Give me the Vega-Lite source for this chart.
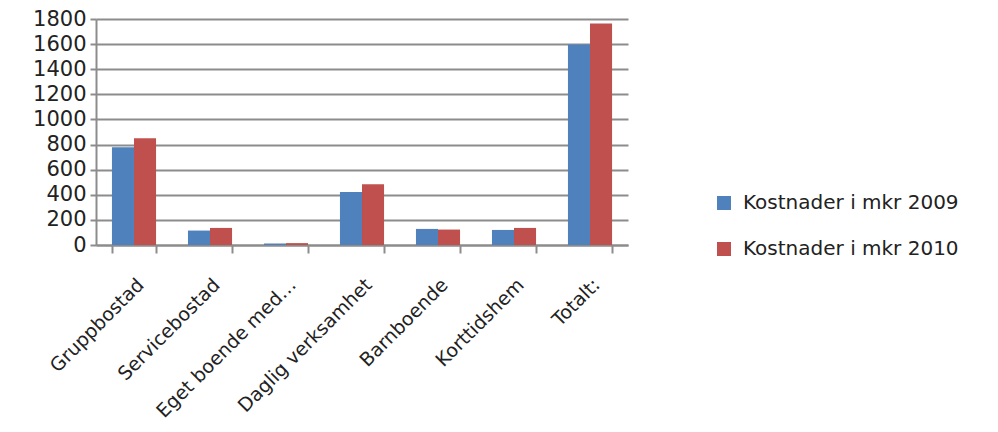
{
  "$schema": "https://vega.github.io/schema/vega-lite/v6.json",
  "width": 532,
  "height": 226,
  "padding": {"left": 32, "top": 8, "right": 5, "bottom": 5},
  "background": "white",
  "config": {"font": "DejaVu Sans", "view": {"stroke": null}},
  "data": {"values": [
    {"cat": "Gruppbostad", "series": "Kostnader i mkr 2009", "value": 778},
    {"cat": "Gruppbostad", "series": "Kostnader i mkr 2010", "value": 851},
    {"cat": "Servicebostad", "series": "Kostnader i mkr 2009", "value": 115},
    {"cat": "Servicebostad", "series": "Kostnader i mkr 2010", "value": 136},
    {"cat": "Eget boende med…", "series": "Kostnader i mkr 2009", "value": 12},
    {"cat": "Eget boende med…", "series": "Kostnader i mkr 2010", "value": 15},
    {"cat": "Daglig verksamhet", "series": "Kostnader i mkr 2009", "value": 423},
    {"cat": "Daglig verksamhet", "series": "Kostnader i mkr 2010", "value": 483},
    {"cat": "Barnboende", "series": "Kostnader i mkr 2009", "value": 128},
    {"cat": "Barnboende", "series": "Kostnader i mkr 2010", "value": 123},
    {"cat": "Korttidshem", "series": "Kostnader i mkr 2009", "value": 120},
    {"cat": "Korttidshem", "series": "Kostnader i mkr 2010", "value": 136},
    {"cat": "Totalt:", "series": "Kostnader i mkr 2009", "value": 1596},
    {"cat": "Totalt:", "series": "Kostnader i mkr 2010", "value": 1765}
  ]},
  "mark": {"type": "bar"},
  "encoding": {
    "x": {
      "field": "cat", "type": "nominal", "sort": null, "title": null,
      "scale": {"paddingInner": 0.42, "paddingOuter": 0.21},
      "axis": {"labelAngle": -45, "labelFontSize": 19, "labelColor": "#222", "labelPadding": 22,
               "domainColor": "#8c8c8c", "domainWidth": 2, "tickColor": "#8c8c8c", "tickWidth": 2,
               "tickSize": 8, "tickBand": "extent", "grid": false, "labelLimit": 300}
    },
    "xOffset": {"field": "series", "type": "nominal", "scale": {"paddingInner": 0}},
    "y": {
      "field": "value", "type": "quantitative", "title": null,
      "scale": {"domain": [0, 1800]},
      "axis": {"values": [0,200,400,600,800,1000,1200,1400,1600,1800], "format": "d", "labelFontSize": 21, "labelColor": "#222",
               "gridColor": "#8c8c8c", "gridWidth": 2, "domainColor": "#8c8c8c", "domainWidth": 2,
               "tickColor": "#8c8c8c", "tickWidth": 2, "tickSize": 6, "labelPadding": 4}
    },
    "color": {
      "field": "series", "type": "nominal", "title": null,
      "scale": {"range": ["#4F81BD", "#C0504D"]},
      "legend": {"orient": "none", "legendX": 618, "legendY": 174, "symbolType": "square", "symbolSize": 196,
                 "labelFontSize": 20, "labelColor": "#222", "rowPadding": 26, "labelOffset": 9, "symbolStrokeWidth": 0, "labelLimit": 400}
    }
  }
}
